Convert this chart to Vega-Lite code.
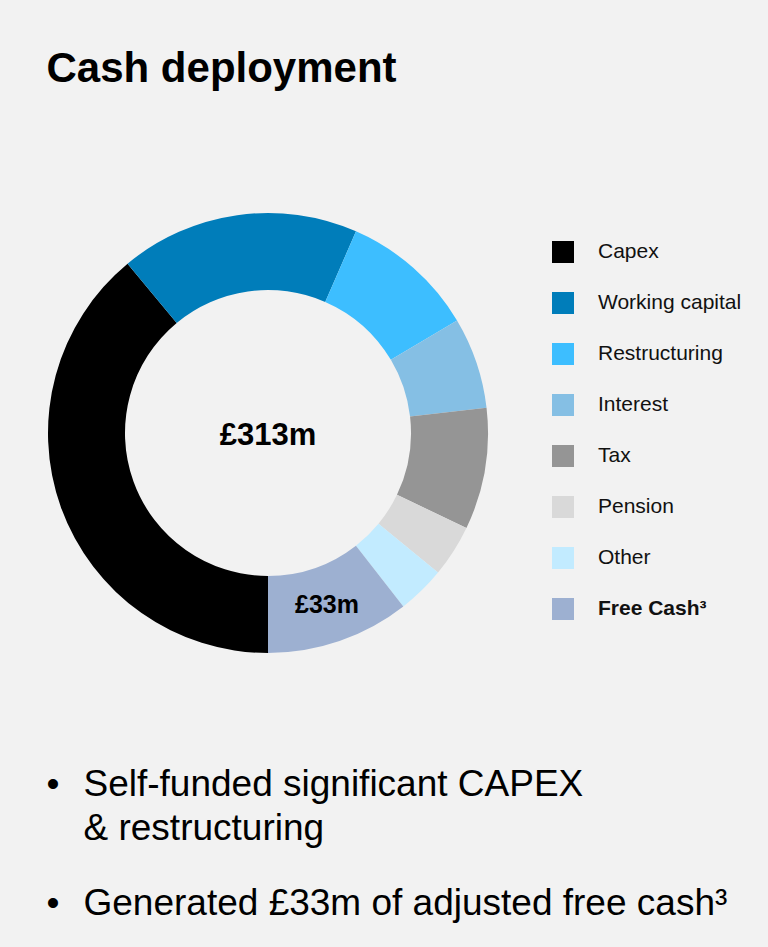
{
  "$schema": "https://vega.github.io/schema/vega-lite/v6.json",
  "background": "#f2f2f2",
  "padding": {"left": 46.5, "top": 48, "right": 0, "bottom": 0},
  "bounds": "flush",
  "spacing": 143,
  "config": {"font": "Liberation Sans", "view": {"stroke": null}},
  "vconcat": [
    {
      "title": {"text": "Cash deployment", "anchor": "start", "frame": "group", "fontSize": 42, "fontWeight": "bold", "font": "Liberation Sans", "color": "#000000", "baseline": "alphabetic", "offset": 89},
      "width": 443,
      "height": 440,
      "data": {"values": [
        {"category": "Capex", "amount": 122, "order": 1, "label": ""},
        {"category": "Working capital", "amount": 55, "order": 2, "label": ""},
        {"category": "Restructuring", "amount": 31, "order": 3, "label": ""},
        {"category": "Interest", "amount": 21, "order": 4, "label": ""},
        {"category": "Tax", "amount": 28, "order": 5, "label": ""},
        {"category": "Pension", "amount": 12, "order": 6, "label": ""},
        {"category": "Other", "amount": 11, "order": 7, "label": ""},
        {"category": "Free Cash³", "amount": 33, "order": 8, "label": "£33m"}
      ]},
      "layer": [
        {
          "mark": {"type": "arc", "radius": 220, "radius2": 143},
          "encoding": {
            "theta": {"field": "amount", "type": "quantitative", "stack": true, "scale": {"range": [3.141592653589793, 9.42477796076938]}},
            "order": {"field": "order", "type": "quantitative"},
            "color": {
              "field": "category", "type": "nominal",
              "scale": {
                "domain": ["Capex", "Working capital", "Restructuring", "Interest", "Tax", "Pension", "Other", "Free Cash³"],
                "range": ["#000000", "#007dba", "#3dbeff", "#85bfe4", "#959595", "#d9d9d9", "#c2ebff", "#9db0d1"]
              },
              "legend": {
                "orient": "none", "legendX": 505.5, "legendY": 28, "padding": 0,
                "title": null, "symbolType": "square", "symbolSize": 484, "symbolStrokeWidth": 0, "symbolOpacity": 1,
                "labelFontSize": 21, "labelFont": "Liberation Sans", "labelColor": "#111111",
                "labelOffset": 24, "rowPadding": 29, "labelLimit": 300,
                "encode": {"labels": {"update": {"fontWeight": {"signal": "datum.value === 'Free Cash³' ? 'bold' : 'normal'"}}}}
              }
            }
          }
        },
        {
          "mark": {"type": "text", "radius": 181.5, "fontSize": 25, "fontWeight": "bold", "color": "#000000", "baseline": "middle", "align": "center"},
          "encoding": {
            "theta": {"field": "amount", "type": "quantitative", "stack": true},
            "order": {"field": "order", "type": "quantitative"},
            "detail": {"field": "category", "type": "nominal"},
            "text": {"field": "label", "type": "nominal"}
          }
        },
        {
          "data": {"values": [{"total": "£313m"}]},
          "mark": {"type": "text", "fontSize": 31, "fontWeight": "bold", "color": "#000000", "baseline": "alphabetic", "align": "center", "dy": 12},
          "encoding": {"text": {"field": "total", "type": "nominal"}}
        }
      ]
    },
    {
      "width": 721.5,
      "height": 193,
      "data": {"values": [
        {"row": "1", "bullet": "•", "text": ["Self-funded significant CAPEX", "& restructuring"]},
        {"row": "2", "bullet": "•", "text": ["Generated £33m of adjusted free cash³"]}
      ]},
      "encoding": {
        "y": {"field": "row", "type": "ordinal", "scale": {"type": "point", "padding": 0.3109, "align": 0}, "axis": null},
        "x": {"value": 0}
      },
      "layer": [
        {"mark": {"type": "text", "align": "left", "baseline": "alphabetic", "fontSize": 37, "color": "#000000"}, "encoding": {"text": {"field": "bullet", "type": "nominal"}}},
        {"mark": {"type": "text", "align": "left", "baseline": "alphabetic", "fontSize": 37, "lineHeight": 44, "dx": 37, "color": "#000000"}, "encoding": {"text": {"field": "text", "type": "nominal"}}}
      ]
    }
  ]
}
